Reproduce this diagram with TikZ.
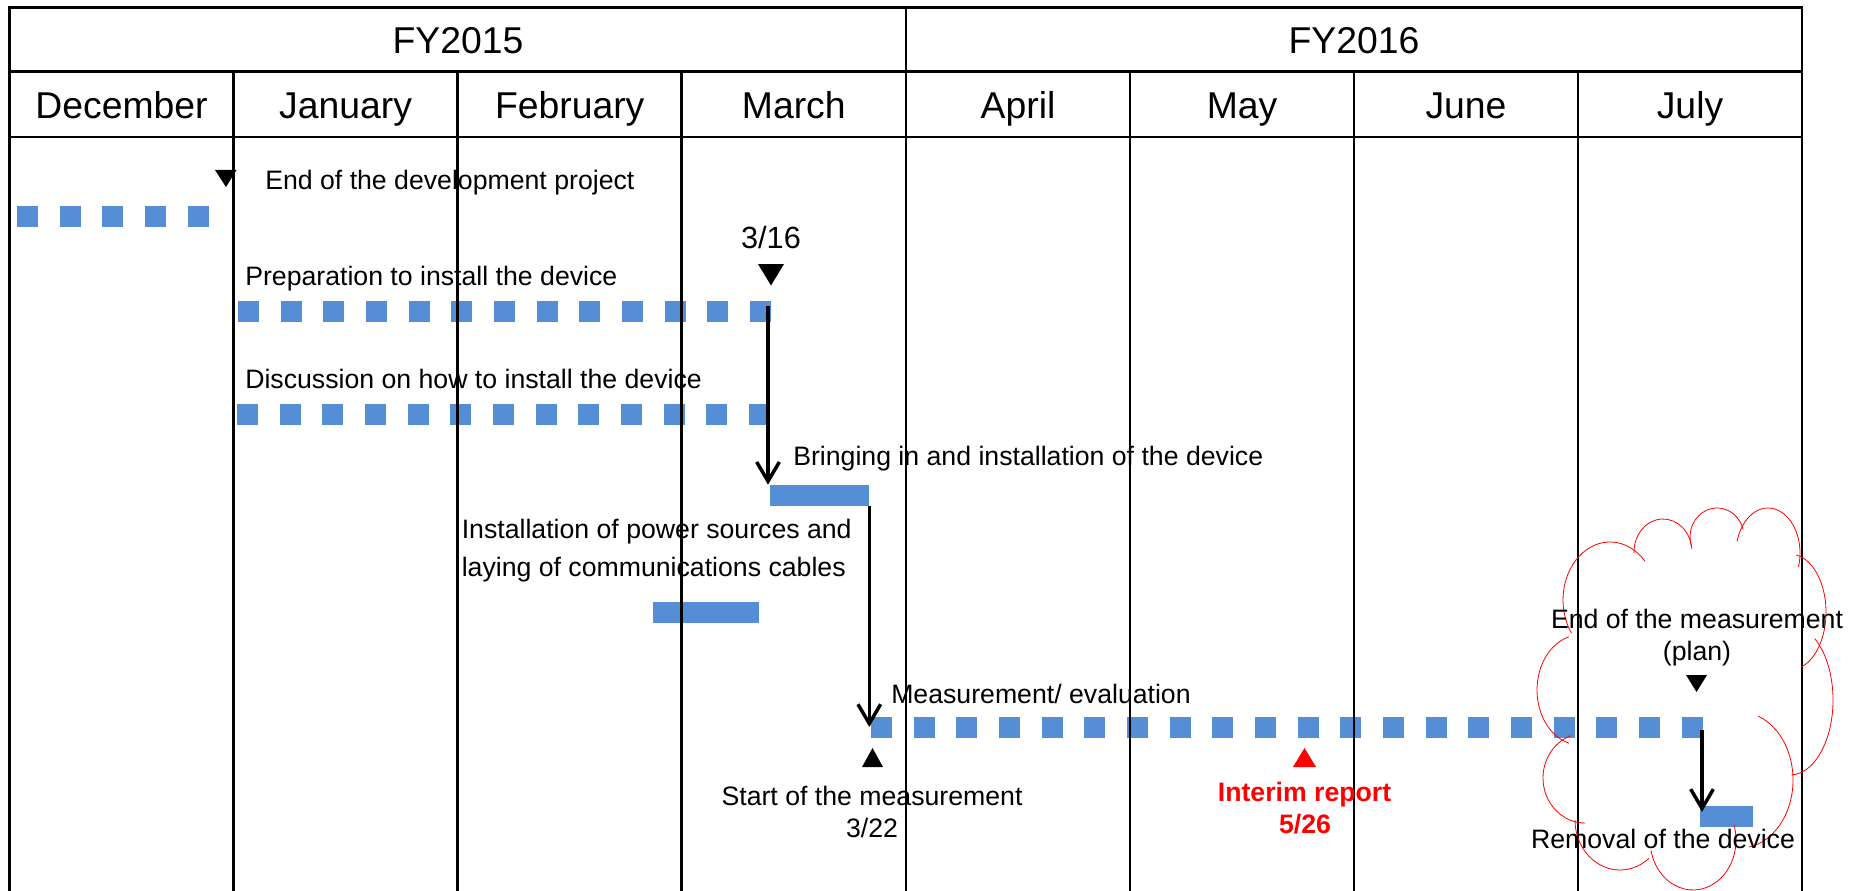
\documentclass[tikz,border=0pt]{standalone}
\usepackage{fontspec}
\setmainfont{Liberation Sans}
\usepackage{tikz}
\usetikzlibrary{arrows.meta}
\definecolor{barblue}{RGB}{85,142,213}

\begin{document}
\begin{tikzpicture}[x=0.75pt,y=0.75pt,yscale=-1,xscale=1,
  gridline/.style={line width=2pt},
  dotbar/.style={barblue,line width=15.75pt,dash pattern=on 15.75pt off 16.25pt},
  taskbar/.style={fill=barblue,inner sep=0pt,minimum height=15.75pt},
  flow/.style={line width=2.6pt,-{Straight Barb[length=14.5pt,width=17pt]}},
  headlbl/.style={font=\fontsize{28}{32}\selectfont,anchor=base,inner sep=0pt},
  tasklbl/.style={font=\fontsize{20}{23}\selectfont,anchor=base west,inner sep=0pt},
  notelbl/.style={font=\fontsize{20}{23}\selectfont,anchor=base,inner sep=0pt},
  cloudline/.style={red,line width=0.6pt}]
\useasboundingbox (0,0) rectangle (1865,891);

%Planned bars (dotted)
\coordinate (devA) at (17,217);
\coordinate (devB) at (209,217);
\coordinate (prepA) at (238,311);
\coordinate (prepB) at (771,311);
\coordinate (discA) at (237,414.5);
\coordinate (discB) at (770,414.5);
\coordinate (measA) at (871,727);
\coordinate (measB) at (1703,727);
\draw [dotbar] (devA) -- (devB);
\draw [dotbar] (prepA) -- (prepB);
\draw [dotbar] (discA) -- (discB);
\draw [dotbar] (measA) -- (measB);

%Solid bars
\node (bring) [taskbar, minimum width=74.25pt] at (819.5,495.5) {};
\node (power) [taskbar, minimum width=79.5pt] at (706,612.5) {};
\node (removal) [taskbar, minimum width=39.75pt] at (1726.5,816) {};

%Table frame
\draw [gridline] (9.5,891) -- (9.5,7.5) -- (1802,7.5) -- (1802,891);
\draw [gridline] (9.5,71.5) -- (1802,71.5);
\draw [gridline] (9.5,137) -- (1802,137);
\draw [gridline] (906,7.5) -- (906,891);
\draw [gridline] (233.5,71.5) -- (233.5,891);
\draw [gridline] (457.6,71.5) -- (457.6,891);
\draw [gridline] (681.7,71.5) -- (681.7,891);
\draw [gridline] (1130,71.5) -- (1130,891);
\draw [gridline] (1354,71.5) -- (1354,891);
\draw [gridline] (1578,71.5) -- (1578,891);

%Cloud round the plan
\draw [cloudline] (1610,600) ++(145:47 and 58) arc [start angle=145, end angle=318, x radius=47, y radius=58];
\draw [cloudline] (1663,552) ++(178:29 and 33) arc [start angle=178, end angle=355, x radius=29, y radius=33];
\draw [cloudline] (1717,537) ++(160:27 and 29) arc [start angle=160, end angle=345, x radius=27, y radius=29];
\draw [cloudline] (1768,553) ++(195:32 and 45) arc [start angle=195, end angle=378, x radius=32, y radius=45];
\draw [cloudline] (1790,612) ++(280:36 and 58) arc [start angle=280, end angle=432, x radius=36, y radius=58];
\draw [cloudline] (1790,700) ++(305:43 and 75) arc [start angle=305, end angle=448, x radius=43, y radius=75];
\draw [cloudline] (1740,780) ++(290:53 and 68) arc [start angle=290, end angle=440, x radius=53, y radius=68];
\draw [cloudline] (1693,840) ++(-18:43 and 50) arc [start angle=-18, end angle=168, x radius=43, y radius=50];
\draw [cloudline] (1620,820) ++(50:45 and 50) arc [start angle=50, end angle=180, x radius=45, y radius=50];
\draw [cloudline] (1585,778) ++(90:42 and 45) arc [start angle=90, end angle=250, x radius=42, y radius=45];
\draw [cloudline] (1580,690) ++(105:43 and 55) arc [start angle=105, end angle=255, x radius=43, y radius=55];

%Arrows
\coordinate (prepEnd) at (768,306);
\draw [flow] (prepEnd) -- (prepEnd |- bring.north);
\draw [flow] (bring.south east) -- (bring.south east |- measA);
\coordinate (measEnd) at (1702,730);
\draw [flow, shorten >=-5pt] (measEnd) -- (measEnd |- removal.north);

%Markers
\fill (215,170) -- (236.5,170) -- (226,187) -- cycle ;
\fill (758,264) -- (784,264) -- (771,285.5) -- cycle ;
\fill (862,767) -- (883,767) -- (872.5,748) -- cycle ;
\fill [red] (1293,767) -- (1316,767) -- (1304.5,748) -- cycle ;
\fill (1686,675) -- (1707,675) -- (1696.5,692) -- cycle ;

% Header
\node (fy15) [headlbl] at (458,54) {FY2015};
\node (fy16) [headlbl] at (1354,54) {FY2016};
\node (dec) [headlbl] at (121.5,119) {December};
\node (jan) [headlbl] at (345.6,119) {January};
\node (feb) [headlbl] at (569.7,119) {February};
\node (mar) [headlbl] at (793.8,119) {March};
\node (apr) [headlbl] at (1018,119) {April};
\node (may) [headlbl] at (1242,119) {May};
\node (jun) [headlbl] at (1466,119) {June};
\node (jul) [headlbl] at (1690,119) {July};

% Task labels
\node (devLbl) [tasklbl] at (265,189.5) {End of the development project};
\node (prepLbl) [tasklbl] at (245,285) {Preparation to install the device};
\node (discLbl) [tasklbl] at (245,388) {Discussion on how to install the device};
\node (bringLbl) [tasklbl] at (793,465) {Bringing in and installation of the device};
\node (powerLbl) [tasklbl] at (461.5,538) {Installation of power sources and};
\node (cableLbl) [tasklbl] at (461.5,576) {laying of communications cables};
\node (measLbl) [tasklbl] at (891,703) {Measurement/ evaluation};
\node (date316) [notelbl, font=\fontsize{23}{26}\selectfont] at (771,248) {3/16};
\node (startLbl) [notelbl] at (872,805.5) {Start of the measurement};
\node (startDate) [notelbl] at (872,837) {3/22};
\node (interimLbl) [notelbl, red, font=\fontsize{20}{23}\selectfont\bfseries] at (1304.5,801) {Interim report};
\node (interimDate) [notelbl, red, font=\fontsize{20}{23}\selectfont\bfseries] at (1305,833) {5/26};
\node (endLbl) [notelbl] at (1697,628) {End of the measurement};
\node (endPlan) [notelbl] at (1697,660) {(plan)};
\node (removalLbl) [notelbl] at (1663,848) {Removal of the device};
\end{tikzpicture}
\end{document}
